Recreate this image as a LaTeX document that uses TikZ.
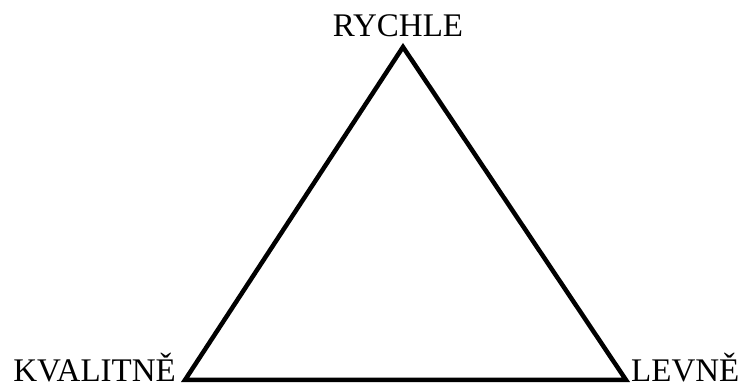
\documentclass[tikz,border=0pt]{standalone}
\usepackage{fontspec}
\setmainfont{Liberation Serif}
\usetikzlibrary{positioning}

\begin{document}
\begin{tikzpicture}[x=1pt, y=1pt]
        \useasboundingbox (0, 0) rectangle (741, 385);
        \tikzset{corner/.style={font=\fontsize{33}{36}\selectfont, inner sep=0pt}}

        % Vertices of the triangle
        \coordinate (fast) at (403, 338);
        \coordinate (good) at (185, 5);
        \coordinate (cheap) at (626, 5);

        % Triangle
        \draw[line width=4.5pt, line join=miter] (fast) -- (cheap) -- (good) -- cycle;

        % Corner labels
        \node[corner, anchor=base] (rychle) at (398, 348) {RYCHLE};
        \node[corner, anchor=base east] (kvalitne) at (176, 3) {KVALITNĚ};
        \node[corner, anchor=base west] (levne) at (631, 3) {LEVNĚ};
    \end{tikzpicture}
\end{document}
